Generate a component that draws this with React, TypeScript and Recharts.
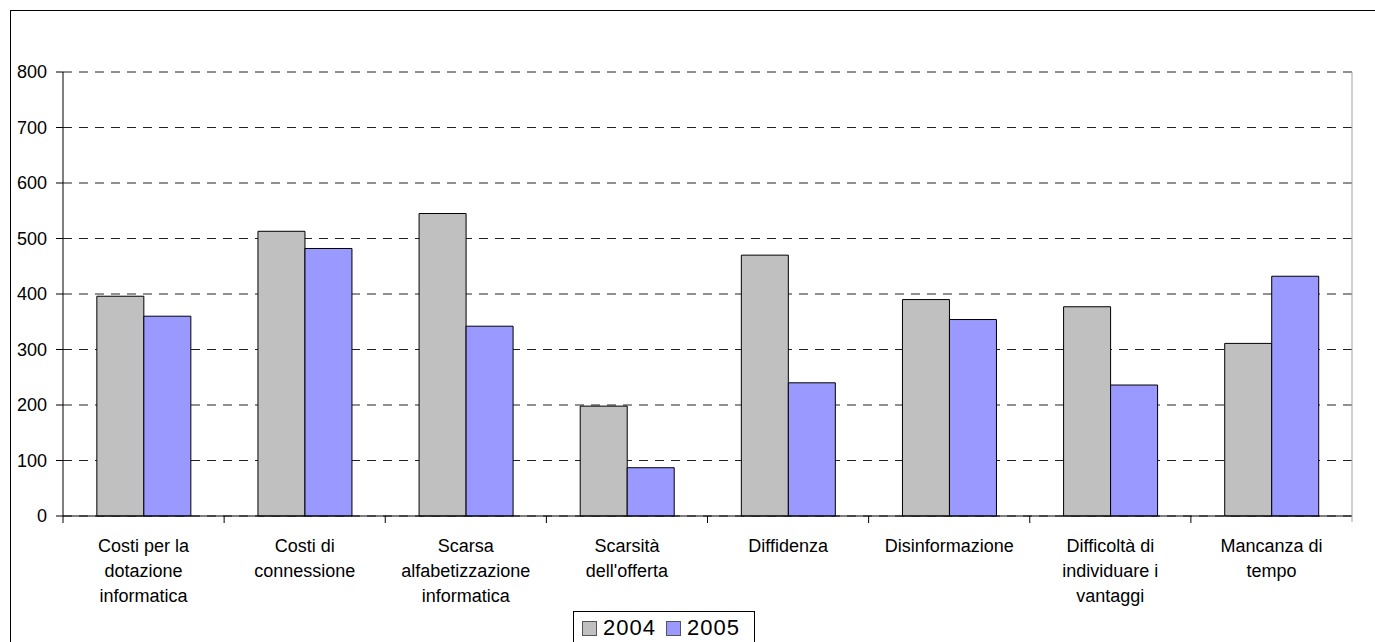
import React from 'react';
import { BarChart, Bar, XAxis, YAxis, CartesianGrid } from 'recharts';

const categories = [
  'Costi per la dotazione informatica',
  'Costi di connessione',
  'Scarsa alfabetizzazione informatica',
  "Scarsità dell'offerta",
  'Diffidenza',
  'Disinformazione',
  'Difficoltà di individuare i vantaggi',
  'Mancanza di tempo',
];
const tickLines = [
  ['Costi per la', 'dotazione', 'informatica'],
  ['Costi di', 'connessione'],
  ['Scarsa', 'alfabetizzazione', 'informatica'],
  ['Scarsità', "dell'offerta"],
  ['Diffidenza'],
  ['Disinformazione'],
  ['Difficoltà di', 'individuare i', 'vantaggi'],
  ['Mancanza di', 'tempo'],
];
const values2004 = [396, 513, 545, 198, 470, 390, 377, 311];
const values2005 = [360, 482, 342, 87, 240, 354, 236, 432];
const yTicks = [0, 100, 200, 300, 400, 500, 600, 700, 800];
const seriesKeys = ['2004', '2005'];
const seriesColors = ['#C0C0C0', '#9999FF'];

const data = categories.map((c, i) => ({ name: c, '2004': values2004[i], '2005': values2005[i] }));

const W = 1375;
const H = 642;
const margin = { top: 72, right: 23, bottom: 26, left: 0 };
const Y_W = 63;
const X_H = 100;
const BAND = (W - margin.left - margin.right - Y_W) / categories.length;
const FONT = "'Liberation Sans', Arial, sans-serif";

function XTick(props: any) {
  const { x, y, index } = props;
  const lines = tickLines[index] ?? [String(props.payload?.value ?? '')];
  const left = x - BAND / 2;
  const right = x + BAND / 2;
  return (
    <g>
      <line x1={left} x2={left} y1={y} y2={y + 7} stroke="#000" strokeWidth={1} />
      {index === categories.length - 1 && (
        <line x1={right} x2={right} y1={y - 444} y2={y + 6} stroke="#a0a0a0" strokeWidth={1} />
      )}
      <text x={x} y={y} textAnchor="middle" fontSize={18} fontFamily={FONT} fill="#000">
        {lines.map((l, i) => (
          <tspan key={i} x={x} y={y + 36 + i * 25}>
            {l}
          </tspan>
        ))}
      </text>
    </g>
  );
}

export default function App() {
  return (
    <div style={{ position: 'fixed', left: 0, top: 0, width: W, height: H, overflow: 'hidden', background: '#fff', fontFamily: FONT }}>
      <div style={{ position: 'absolute', left: 10, top: 10, width: 1420, height: 700, border: '1px solid #000', boxSizing: 'border-box' }} />
      <div style={{ position: 'absolute', left: 0, top: 0 }}>
        <BarChart width={W} height={H} data={data} margin={margin} barCategoryGap="21%" barGap={0}>
          <CartesianGrid vertical={false} stroke="#222" strokeDasharray="9 7" />
          <XAxis
            dataKey="name"
            height={X_H}
            interval={0}
            tickSize={0}
            tickMargin={0}
            tickLine={false}
            axisLine={{ stroke: '#000' }}
            tick={<XTick />}
          />
          <YAxis
            width={Y_W}
            domain={[0, 800]}
            ticks={yTicks}
            interval={0}
            tickSize={7}
            tickMargin={9}
            axisLine={{ stroke: '#000' }}
            tickLine={{ stroke: '#000' }}
            tick={{ fill: '#000', fontSize: 18, fontFamily: FONT }}
          />
          {seriesKeys.map((k, i) => (
            <Bar key={k} dataKey={k} fill={seriesColors[i]} stroke="#000" strokeWidth={1} isAnimationActive={false} />
          ))}
        </BarChart>
      </div>
      <div
        style={{
          position: 'absolute',
          left: 573,
          top: 611,
          width: 182,
          height: 40,
          border: '1px solid #000',
          boxSizing: 'border-box',
          background: '#fff',
          display: 'flex',
          alignItems: 'flex-start',
          paddingLeft: 8,
          paddingTop: 4,
          fontFamily: FONT,
          fontSize: 22,
          letterSpacing: 1,
          lineHeight: '24px',
          color: '#000',
        }}
      >
        {seriesKeys.map((k, i) => (
          <div key={k} style={{ display: 'flex', alignItems: 'center', marginRight: 10 }}>
            <span
              style={{
                display: 'inline-block',
                width: 15,
                height: 15,
                background: seriesColors[i],
                border: '1px solid #555',
                boxSizing: 'border-box',
                marginRight: 6,
              }}
            />
            <span>{k}</span>
          </div>
        ))}
      </div>
    </div>
  );
}
